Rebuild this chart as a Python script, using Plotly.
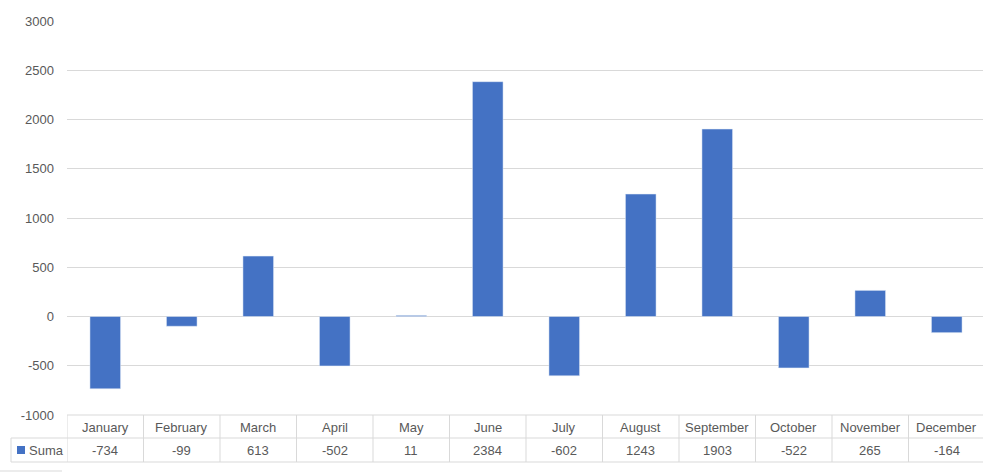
import plotly.graph_objects as go

months = ["January", "February", "March", "April", "May", "June", "July",
          "August", "September", "October", "November", "December"]
suma = [-734, -99, 613, -502, 11, 2384, -602, 1243, 1903, -522, 265, -164]
series_name = "Suma"
y_ticks = [-1000, -500, 0, 500, 1000, 1500, 2000, 2500, 3000]

BAR = "#4472C4"
GRID = "#d9d9d9"
TXT = "#595959"
FONT = "Liberation Sans"
FS = 13

W, H = 983, 472
ML, MR, MT, MB = 67, 0, 21, 57
PH = H - MT - MB  # plot height in px
CAT_PX = 76.5     # pixels per category column
X_RANGE = [-0.5, -0.5 + (W - ML - MR) / CAT_PX]


def py(p):
    """pixel row -> paper y"""
    return (H - MB - p) / PH


def px(p):
    return (p - ML) / (W - ML - MR)


fig = go.Figure()
fig.add_trace(go.Bar(x=list(range(len(months))), y=suma, marker_color=BAR,
                     name=series_name, showlegend=False))

shapes = []
annotations = []
row1_top, row_mid, row_bot = py(415), py(438), py(462)

# horizontal table lines
shapes.append(dict(type="line", xref="paper", yref="paper", x0=0, x1=1,
                   y0=row1_top, y1=row1_top, line=dict(color=GRID, width=1)))
for yy in (row_mid, row_bot):
    shapes.append(dict(type="line", xref="paper", yref="paper", x0=px(11), x1=1,
                       y0=yy, y1=yy, line=dict(color=GRID, width=1)))
# vertical table lines at category boundaries
for i in range(len(months)):
    shapes.append(dict(type="line", xref="x", yref="paper", x0=i - 0.5, x1=i - 0.5,
                       y0=row1_top, y1=row_bot, line=dict(color=GRID, width=1)))
# left legend cell border
shapes.append(dict(type="line", xref="paper", yref="paper", x0=px(11), x1=px(11),
                   y0=row_mid, y1=row_bot, line=dict(color=GRID, width=1)))
# legend key
shapes.append(dict(type="rect", xref="paper", yref="paper", x0=px(17), x1=px(25),
                   y0=py(454), y1=py(446), line=dict(width=0), fillcolor=BAR))
# small bottom-left border fragment
shapes.append(dict(type="line", xref="paper", yref="paper", x0=px(0), x1=px(62),
                   y0=py(471), y1=py(471), line=dict(color=GRID, width=1)))

for i, (m, v) in enumerate(zip(months, suma)):
    annotations.append(dict(x=i, y=py(427), xref="x", yref="paper", text=m,
                            showarrow=False, font=dict(color=TXT, size=FS, family=FONT),
                            xanchor="center", yanchor="middle"))
    annotations.append(dict(x=i, y=py(450), xref="x", yref="paper", text=str(v),
                            showarrow=False, font=dict(color=TXT, size=FS, family=FONT),
                            xanchor="center", yanchor="middle"))
annotations.append(dict(x=px(27), y=py(450), xref="paper", yref="paper", text=series_name,
                        showarrow=False, font=dict(color=TXT, size=FS, family=FONT),
                        xanchor="left", yanchor="middle"))

fig.update_layout(
    width=W, height=H,
    margin=dict(l=ML, r=MR, t=MT, b=MB),
    paper_bgcolor="white", plot_bgcolor="white",
    bargap=0.6,
    font=dict(family=FONT, color=TXT, size=FS),
    xaxis=dict(range=X_RANGE, showticklabels=False, showgrid=False,
               zeroline=False, showline=False, ticks=""),
    yaxis=dict(range=[-1000, 3000], tickvals=y_ticks, ticktext=[str(t) for t in y_ticks],
               showgrid=True, gridcolor=GRID,
               gridwidth=1, zeroline=True, zerolinecolor=GRID, zerolinewidth=1,
               showline=False, ticks="", ticklabelstandoff=12,
               tickfont=dict(color=TXT, size=FS, family=FONT)),
    shapes=shapes,
    annotations=annotations,
)

fig.write_html("out.html", config={"displayModeBar": False},
               post_script="document.body.style.margin='0';")
